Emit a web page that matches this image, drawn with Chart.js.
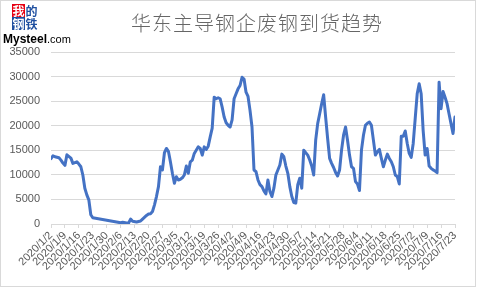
<!DOCTYPE html>
<html><head><meta charset="utf-8">
<script src="https://cdn.jsdelivr.net/npm/chart.js@4"></script>
<style>
html,body{margin:0;padding:0;background:#fff;}
#wrap{position:relative;width:480px;height:288px;overflow:hidden;}
#frame{position:absolute;left:0;top:0;width:474px;height:285px;border:1px solid #d9d9d9;box-sizing:content-box;}
canvas{position:absolute;left:0;top:0;}
#title{position:absolute;left:0;width:514px;top:8px;text-align:center;font-family:"Noto Sans CJK SC";font-weight:300;font-size:20px;color:#666;letter-spacing:1px;}
.lg{position:absolute;width:13px;height:13px;font-family:"Noto Sans CJK SC";font-size:12px;line-height:13px;text-align:center;font-weight:bold;}
#ms{position:absolute;left:3px;top:29px;font-family:"Liberation Sans";color:#000;white-space:nowrap;}
</style></head>
<body>
<div id="wrap">
<div id="frame"></div>
<canvas id="c" width="480" height="288"></canvas>
<div id="title">华东主导钢企废钢到货趋势</div>
<div class="lg" style="left:12px;top:4px;background:#e60012;color:#fff;">我</div>
<div class="lg" style="left:25px;top:4px;background:#fff;color:#1f4fa0;">的</div>
<div class="lg" style="left:12px;top:17px;background:#1f4fa0;color:#fff;">钢</div>
<div class="lg" style="left:25px;top:17px;background:#fff;color:#1f4fa0;">铁</div>
<div id="ms"><span style="font-weight:bold;font-size:12px;">Mysteel</span><span style="font-size:11px;">.com</span></div>
</div>
<script>
const dates = ["2020/1/2","2020/1/3","2020/1/4","2020/1/6","2020/1/7","2020/1/8","2020/1/9","2020/1/10","2020/1/12","2020/1/13","2020/1/15","2020/1/16","2020/1/17","2020/1/18","2020/1/19","2020/1/20","2020/1/21","2020/1/22","2020/1/23",
"2020/2/6","2020/2/7","2020/2/9","2020/2/10","2020/2/11","2020/2/12","2020/2/14","2020/2/16","2020/2/17","2020/2/19","2020/2/20","2020/2/21","2020/2/22","2020/2/23","2020/2/24","2020/2/25","2020/2/26","2020/2/27","2020/2/28","2020/2/29",
"2020/3/1","2020/3/2","2020/3/3","2020/3/4","2020/3/5","2020/3/6","2020/3/7","2020/3/8","2020/3/9","2020/3/10","2020/3/11","2020/3/12","2020/3/13","2020/3/14","2020/3/16","2020/3/17","2020/3/18","2020/3/19","2020/3/20","2020/3/21","2020/3/22","2020/3/23","2020/3/24","2020/3/25","2020/3/26","2020/3/27","2020/3/28","2020/3/29","2020/3/30","2020/3/31",
"2020/4/1","2020/4/2","2020/4/3","2020/4/4","2020/4/5","2020/4/6","2020/4/7","2020/4/8","2020/4/9","2020/4/10","2020/4/11","2020/4/12","2020/4/13","2020/4/14","2020/4/15","2020/4/16","2020/4/17","2020/4/18","2020/4/19","2020/4/20","2020/4/21","2020/4/22","2020/4/23","2020/4/24","2020/4/25","2020/4/26","2020/4/27","2020/4/28","2020/4/29","2020/4/30",
"2020/5/1","2020/5/2","2020/5/3","2020/5/4","2020/5/5","2020/5/6","2020/5/7","2020/5/8","2020/5/9","2020/5/10","2020/5/11","2020/5/12","2020/5/13","2020/5/14","2020/5/15","2020/5/16","2020/5/17","2020/5/18","2020/5/19","2020/5/20","2020/5/21","2020/5/22","2020/5/23","2020/5/24","2020/5/25","2020/5/26","2020/5/27","2020/5/28","2020/5/29","2020/5/30","2020/5/31",
"2020/6/1","2020/6/2","2020/6/3","2020/6/4","2020/6/5","2020/6/6","2020/6/7","2020/6/8","2020/6/9","2020/6/10","2020/6/11","2020/6/12","2020/6/13","2020/6/14","2020/6/15","2020/6/16","2020/6/17","2020/6/18","2020/6/19","2020/6/20","2020/6/21","2020/6/22","2020/6/23","2020/6/24","2020/6/25","2020/6/26","2020/6/27","2020/6/28","2020/6/29","2020/6/30",
"2020/7/1","2020/7/2","2020/7/3","2020/7/4","2020/7/5","2020/7/6","2020/7/7","2020/7/8","2020/7/9","2020/7/10","2020/7/11","2020/7/12","2020/7/13","2020/7/14","2020/7/15","2020/7/16","2020/7/17","2020/7/18","2020/7/19","2020/7/20","2020/7/21","2020/7/22","2020/7/23"];
const arrivals = [13270,13880,13680,13470,13000,12400,11930,14080,13410,12340,12660,12200,11650,9970,7280,5930,4920,1880,1270,
250,350,200,200,1000,550,400,600,1000,1740,2020,2100,2550,3900,5590,7600,11650,11000,14500,15370,
14800,12660,10320,8290,9630,8960,9100,9400,9970,11790,10320,12660,13000,14360,15700,15370,14020,15700,15170,15840,17720,19500,25810,25490,25690,25490,23790,21770,20600,20090,
19740,21200,25490,26500,27500,28180,29860,29500,26820,25950,23120,19740,10990,10640,8960,8000,7600,6740,6130,8960,6600,5590,7280,9970,11000,12000,14220,13680,11790,10320,
7600,5590,4370,4250,8000,9310,7300,15030,14500,14020,13010,11800,9970,17060,20430,22450,24480,26300,21770,17400,13350,12340,11500,10500,9770,10990,15030,18070,19740,17050,14020,
11650,11330,8620,8150,6800,15030,18070,20090,20500,20760,20090,17060,14020,14690,15170,13350,11650,13010,14220,13350,12660,11650,9970,9630,8150,17860,17860,18940,16390,14360,
13550,16390,21440,26500,28520,26500,19000,14020,15370,11790,11330,11000,10780,10440,28850,23470,26970,25800,24500,22450,20430,18410,21770];
const yTicks = [0,5000,10000,15000,20000,25000,30000,35000];
const startDate = "2020/1/2";
const endDate = "2020/7/23";

function toDay(s){const p=s.split("/").map(Number);return (Date.UTC(p[0],p[1]-1,p[2])-Date.UTC(2020,0,2))/86400000;}
function fromDay(n){const d=new Date(Date.UTC(2020,0,2)+n*86400000);return d.getUTCFullYear()+"/"+(d.getUTCMonth()+1)+"/"+d.getUTCDate();}
const pts = dates.map((d,i)=>({x:toDay(d),y:arrivals[i]}));

new Chart(document.getElementById('c'),{
  type:'line',
  data:{datasets:[{data:pts,borderColor:'#4472C4',borderWidth:3,pointRadius:0,tension:0,fill:false,borderJoinStyle:'round',borderCapStyle:'round'}]},
  options:{
    responsive:false,animation:false,
    layout:{padding:{top:52,right:25,left:0,bottom:0}},
    plugins:{legend:{display:false},title:{display:false},tooltip:{enabled:false}},
    scales:{
      x:{type:'linear',min:toDay(startDate),max:toDay(endDate),
        afterBuildTicks:(s)=>{const t=[];for(let v=s.min;v<=s.max;v+=7)t.push({value:v});s.ticks=t;},
        ticks:{autoSkip:false,maxRotation:45,minRotation:45,padding:1,color:'#595959',font:{family:'Liberation Sans',size:11},callback:(v)=>fromDay(v)},
        grid:{drawOnChartArea:false,drawTicks:true,tickLength:4,color:'#d9d9d9'},
        border:{display:true,color:'#d9d9d9'},
        afterFit:(s)=>{s.height=64;}
      },
      y:{min:0,max:35000,
        afterBuildTicks:(s)=>{s.ticks=yTicks.map(v=>({value:v}));},
        ticks:{padding:11,color:'#595959',font:{family:'Liberation Sans',size:11},callback:(v)=>String(v)},
        grid:{color:'#d9d9d9',drawTicks:false},
        border:{display:false},
        afterFit:(s)=>{s.width=51;}
      }
    }
  }
});
</script>
</body></html>
